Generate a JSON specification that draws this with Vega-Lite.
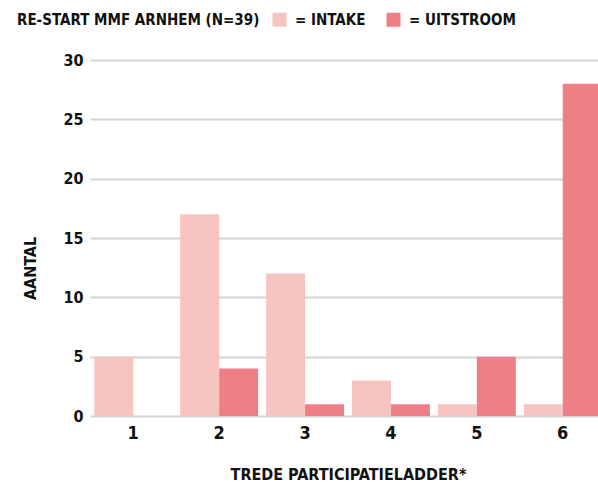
{
  "$schema": "https://vega.github.io/schema/vega-lite/v6.json",
  "autosize": "none",
  "padding": {"left": 90, "top": 60, "right": 0, "bottom": 68},
  "width": 516,
  "height": 356,
  "background": "white",
  "data": {
    "values": [
      {"trede": "1", "groep": "= INTAKE", "aantal": 5},
      {"trede": "2", "groep": "= INTAKE", "aantal": 17},
      {"trede": "3", "groep": "= INTAKE", "aantal": 12},
      {"trede": "4", "groep": "= INTAKE", "aantal": 3},
      {"trede": "5", "groep": "= INTAKE", "aantal": 1},
      {"trede": "6", "groep": "= INTAKE", "aantal": 1},
      {"trede": "1", "groep": "= UITSTROOM", "aantal": 0},
      {"trede": "2", "groep": "= UITSTROOM", "aantal": 4},
      {"trede": "3", "groep": "= UITSTROOM", "aantal": 1},
      {"trede": "4", "groep": "= UITSTROOM", "aantal": 1},
      {"trede": "5", "groep": "= UITSTROOM", "aantal": 5},
      {"trede": "6", "groep": "= UITSTROOM", "aantal": 28}
    ]
  },
  "mark": {"type": "bar"},
  "encoding": {
    "x": {
      "field": "trede",
      "type": "nominal",
      "scale": {"paddingInner": 0.093, "paddingOuter": 0.05},
      "axis": {
        "title": "TREDE PARTICIPATIELADDER*",
        "labelAngle": 0,
        "labelFontSize": 18,
        "domain": false,
        "ticks": false,
        "labelPadding": 8,
        "titlePadding": 24
      }
    },
    "xOffset": {"field": "groep", "type": "nominal", "sort": ["= INTAKE", "= UITSTROOM"], "scale": {"paddingInner": 0, "paddingOuter": 0}},
    "y": {
      "field": "aantal",
      "type": "quantitative",
      "scale": {"domain": [0, 30]},
      "axis": {
        "title": "AANTAL",
        "values": [0, 5, 10, 15, 20, 25, 30],
        "domain": false,
        "ticks": false,
        "labelPadding": 7,
        "titleX": -60,
        "titleY": 208,
        "titleAlign": "center",
        "titleBaseline": "middle"
      }
    },
    "color": {
      "field": "groep",
      "type": "nominal",
      "scale": {"domain": ["= INTAKE", "= UITSTROOM"], "range": ["#f7c4c2", "#ef7f87"]},
      "legend": {
        "title": "RE-START MMF ARNHEM (N=39)",
        "titleOrient": "left",
        "titlePadding": 12,
        "titleLimit": 400,
        "titleFont": "DejaVu Sans Condensed",
        "titleFontWeight": "bold",
        "titleFontSize": 15,
        "titleColor": "#111111",
        "titleBaseline": "middle",
        "orient": "none",
        "direction": "horizontal",
        "legendX": -73,
        "legendY": -48,
        "symbolType": "square",
        "symbolSize": 196,
        "symbolStrokeWidth": 0,
        "symbolOpacity": 1,
        "labelOffset": 8,
        "columnPadding": 20,
        "labelFont": "DejaVu Sans Condensed",
        "labelFontWeight": "bold",
        "labelFontSize": 15,
        "labelColor": "#111111"
      }
    }
  },
  "config": {
    "view": {"stroke": null},
    "axis": {
      "labelFont": "DejaVu Sans Condensed",
      "labelFontWeight": "bold",
      "labelFontSize": 16,
      "labelColor": "#111111",
      "titleFont": "DejaVu Sans Condensed",
      "titleFontWeight": "bold",
      "titleFontSize": 16,
      "titleColor": "#111111",
      "gridColor": "#d4d4d4",
      "gridWidth": 2
    },
    "axisX": {"grid": false}
  }
}
